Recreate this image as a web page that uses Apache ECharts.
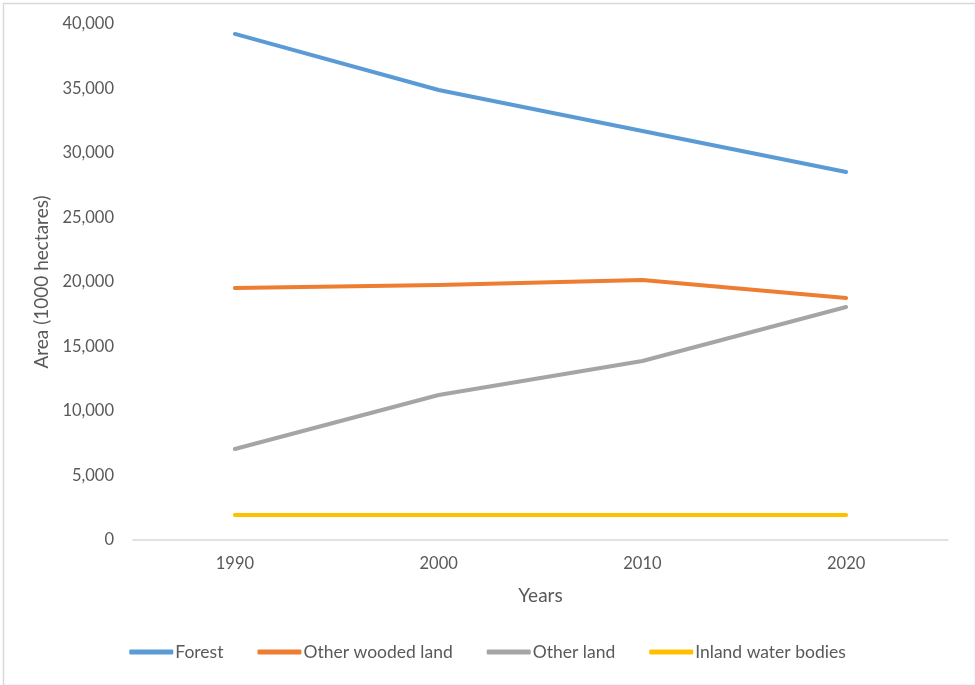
<!DOCTYPE html>
<html>
<head>
<meta charset="utf-8">
<script src="https://cdn.jsdelivr.net/npm/echarts@6/dist/echarts.min.js"></script>
<style>
html,body{margin:0;padding:0;background:#fff;}
#chart{width:975px;height:685px;}
</style>
</head>
<body>
<div id="chart"></div>
<script>
const categories = ['1990', '2000', '2010', '2020'];
const forest = [39230, 34880, 31700, 28530];
const otherWooded = [19530, 19770, 20150, 18760];
const otherLand = [7050, 11240, 13880, 18060];
const inlandWater = [1940, 1940, 1940, 1940];
const seriesNames = ['Forest', 'Other wooded land', 'Other land', 'Inland water bodies'];
const colors = ['#5B9BD5', '#ED7D31', '#A5A5A5', '#FFC000'];

const FONT = 'Lato';
const chart = echarts.init(document.getElementById('chart'));
const values = [forest, otherWooded, otherLand, inlandWater];

chart.setOption({
  animation: false,
  backgroundColor: '#fff',
  color: colors,
  graphic: [{
    type: 'rect', left: 1, top: 1,
    shape: { width: 972, height: 682 },
    style: { fill: 'none', stroke: '#d9d9d9', lineWidth: 1.5 }
  }],
  grid: { left: 133, right: 27, top: 24, bottom: 145 },
  legend: {
    top: 638,
    left: 'center',
    itemWidth: 44,
    itemHeight: 5,
    itemGap: 34,
    icon: 'roundRect',
    textStyle: { fontFamily: FONT, fontSize: 17.5, color: '#595959', padding: [0, 0, 0, -3] },
    data: seriesNames
  },
  xAxis: {
    type: 'category',
    data: categories,
    boundaryGap: true,
    name: 'Years',
    nameLocation: 'middle',
    nameGap: 46,
    nameTextStyle: { fontFamily: FONT, fontSize: 19, color: '#595959' },
    axisLine: { lineStyle: { color: '#d9d9d9', width: 1.5 } },
    axisTick: { show: false },
    axisLabel: { fontFamily: FONT, fontSize: 16.5, color: '#595959', margin: 15 }
  },
  yAxis: {
    type: 'value',
    min: 0, max: 40000, interval: 5000,
    name: 'Area (1000 hectares)',
    nameLocation: 'middle',
    nameGap: 80,
    nameTextStyle: { fontFamily: FONT, fontSize: 19, color: '#595959' },
    axisLine: { show: false },
    axisTick: { show: false },
    splitLine: { show: false },
    axisLabel: {
      fontFamily: FONT, fontSize: 16.5, color: '#595959', margin: 19,
      formatter: v => v.toLocaleString('en-US')
    }
  },
  series: seriesNames.map((n, i) => ({
    name: n,
    type: 'line',
    data: values[i],
    symbol: 'none',
    lineStyle: { width: 4, color: colors[i], cap: 'round', join: 'round' },
    itemStyle: { color: colors[i] }
  }))
});
</script>
</body>
</html>
